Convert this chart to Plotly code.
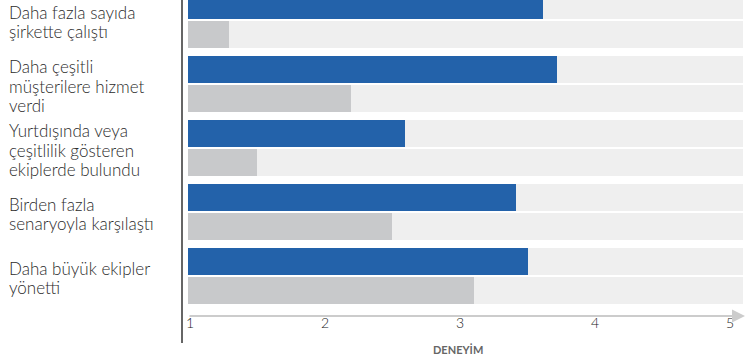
import plotly.graph_objects as go

categories = [
    "Daha fazla sayıda<br>şirkette çalıştı",
    "Daha çeşitli<br>müşterilere hizmet<br>verdi",
    "Yurtdışında veya<br>çeşitlilik gösteren<br>ekiplerde bulundu",
    "Birden fazla<br>senaryoyla karşılaştı",
    "Daha büyük ekipler<br>yönetti",
]
series_a = [3.63, 3.73, 2.61, 3.43, 3.52]   # blue
series_b = [1.30, 2.21, 1.51, 2.51, 3.12]   # gray
tick_vals = [1, 2, 3, 4, 5]
tick_text = ["1", "2", "3", "4", "5"]
axis_title = "DENEYİM"

W, H = 747, 361
ML, MR, MT, MB = 188, 4, 0, 48
BASE = 1.0
PX_PER_UNIT = 135.0
XMAX = BASE + (W - ML - MR) / PX_PER_UNIT
PITCH = 64.0
plot_h = H - MT - MB
y_top = -20.0 / PITCH
y_bot = y_top + plot_h / PITCH
LINE_PX = 19.5

BLUE = "#2362aa"
GRAY = "#c8c9cb"
BG = "#efefef"
TEXT = "#2b2b2b"
FONT = "Lato"

bw = 27 / PITCH
off_a = -28 / PITCH
off_b = 1 / PITCH
idx = list(range(len(categories)))

fig = go.Figure()
for off in (off_a, off_b):
    fig.add_trace(go.Bar(
        y=idx, x=[XMAX - BASE] * len(idx), base=BASE, orientation="h",
        width=bw, offset=off, marker=dict(color=BG, line=dict(width=0)),
        hoverinfo="skip", showlegend=False))
fig.add_trace(go.Bar(
    y=idx, x=[v - BASE for v in series_a], base=BASE, orientation="h",
    width=bw, offset=off_a, marker=dict(color=BLUE, line=dict(width=0)),
    showlegend=False))
fig.add_trace(go.Bar(
    y=idx, x=[v - BASE for v in series_b], base=BASE, orientation="h",
    width=bw, offset=off_b, marker=dict(color=GRAY, line=dict(width=0)),
    showlegend=False))

annotations = []
for i, c in enumerate(categories):
    lines = c.split("<br>")
    n = len(lines)
    for k, ln in enumerate(lines):
        yy = i + (2 + (k - (n - 1) / 2) * LINE_PX) / PITCH
        annotations.append(dict(
            x=(7 - ML) / (W - ML - MR), xref="paper", y=yy, yref="y",
            text=ln, showarrow=False, xanchor="left", yanchor="middle",
            align="left", font=dict(family=FONT, size=17, color=TEXT, weight=300)))
# axis arrow
annotations.append(dict(
    x=1.0 + 2 / (W - ML - MR), xref="paper", y=-3 / plot_h, yref="paper",
    ax=-(W - ML - MR) - 2, ay=0, axref="pixel", ayref="pixel",
    showarrow=True, arrowhead=2, arrowsize=1.3, arrowwidth=2,
    arrowcolor="#cccccc", text=""))
annotations.append(dict(
    x=3, xref="x", y=-(349 - plot_h) / plot_h, yref="paper",
    text="<b>" + axis_title + "</b>", showarrow=False,
    xanchor="center", yanchor="middle",
    font=dict(family="Lato", size=11, color="#666666")))

fig.add_shape(type="line", xref="paper", yref="paper",
              x0=(182 - ML) / (W - ML - MR), x1=(182 - ML) / (W - ML - MR),
              y0=1, y1=-(343 - plot_h) / plot_h,
              line=dict(color="#333333", width=1.5))

fig.update_layout(
    width=W, height=H, margin=dict(l=ML, r=MR, t=MT, b=MB),
    barmode="overlay", plot_bgcolor="white", paper_bgcolor="white",
    bargap=0,
    annotations=annotations,
    xaxis=dict(range=[BASE, XMAX], tickvals=tick_vals, ticktext=tick_text,
               showgrid=False, zeroline=False, showline=False, ticks="",
               tickfont=dict(family="Lato", size=14, color="#222222", weight=300),
               ticklabelshift=2, ticklabelstandoff=0, fixedrange=True),
    yaxis=dict(range=[y_bot, y_top], showticklabels=False, showgrid=False,
               zeroline=False, showline=False, ticks="", fixedrange=True),
)
fig.write_html("out.html")
